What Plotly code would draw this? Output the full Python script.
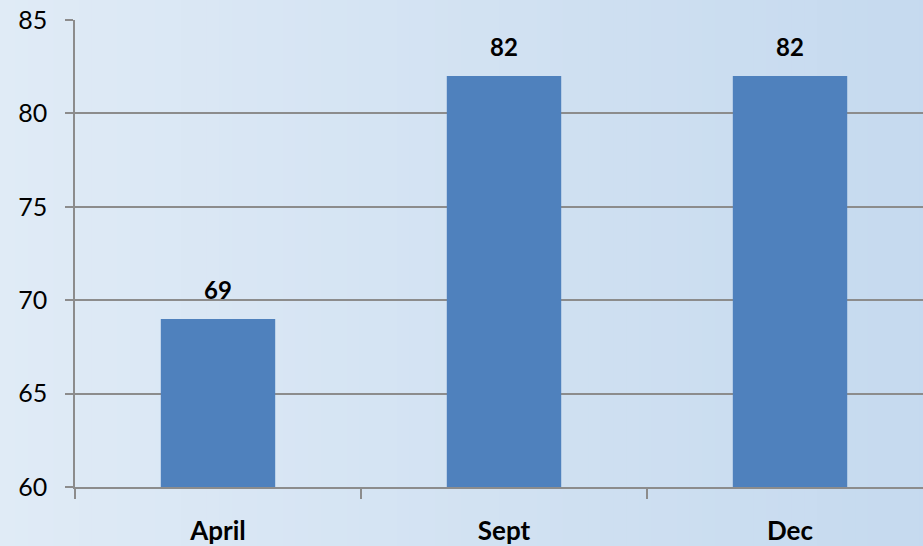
import plotly.graph_objects as go

categories = ["April", "Sept", "Dec"]
values = [69, 82, 82]
y_ticks = [60, 65, 70, 75, 80, 85]

BAR = "#4f81bd"
GRID = "#8c8c8c"
FONT = "Lato"

fig = go.Figure()
fig.add_trace(go.Bar(x=categories, y=values, marker=dict(color=BAR, line=dict(width=0)),
                     width=0.4, hoverinfo="skip"))

for c, v in zip(categories, values):
    fig.add_annotation(x=c, y=v, text=f"<b>{v}</b>", showarrow=False, yanchor="bottom",
                       yshift=13, font=dict(family=FONT, size=24, color="black"))

# horizontal background gradient
c0 = (0xe0, 0xeb, 0xf6)
c1 = (0xc3, 0xd8, 0xee)
n = 80
shapes = []
for i in range(n):
    t = i / (n - 1)
    col = tuple(round(a + (b - a) * t) for a, b in zip(c0, c1))
    shapes.append(dict(type="rect", xref="paper", yref="paper", layer="below",
                       x0=-0.1 + i * 1.2 / n, x1=-0.1 + (i + 1) * 1.2 / n + 0.002,
                       y0=-0.2, y1=1.1, line=dict(width=0),
                       fillcolor="rgb(%d,%d,%d)" % col))

fig.update_layout(
    width=923, height=546,
    margin=dict(l=75, r=0, t=20, b=57),
    paper_bgcolor="#d2e2f2",
    plot_bgcolor="rgba(0,0,0,0)",
    shapes=shapes,
    showlegend=False,
    bargap=0.6,
    xaxis=dict(type="category", range=[-0.5, 2.465], tickson="boundaries",
               ticks="outside", ticklen=10, tickcolor=GRID, tickwidth=1.5,
               showline=True, linecolor=GRID, linewidth=1.5, showgrid=False,
               ticklabelstandoff=20,
               tickfont=dict(family=FONT, size=26, color="black", weight="bold"),
               fixedrange=True),
    yaxis=dict(range=[60, 85], tickvals=y_ticks, ticks="outside", ticklen=8,
               tickcolor=GRID, tickwidth=1.5, showline=True, linecolor=GRID,
               linewidth=1.5, showgrid=True, gridcolor=GRID, gridwidth=1.5,
               zeroline=False, ticklabelstandoff=13,
               tickfont=dict(family=FONT, size=25, color="black"),
               fixedrange=True),
)

fig.write_html("out.html", config={"displayModeBar": False},
               post_script="document.body.style.margin='0';document.body.style.padding='0';document.body.style.overflow='hidden';")
